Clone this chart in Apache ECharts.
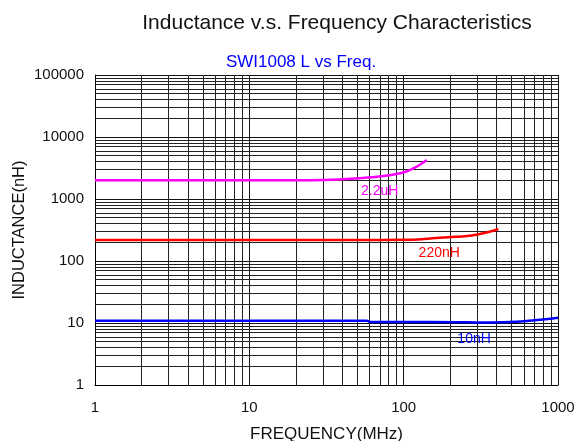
<!DOCTYPE html>
<html><head><meta charset="utf-8">
<script src="https://cdn.jsdelivr.net/npm/echarts@6/dist/echarts.min.js"></script>
<style>html,body{margin:0;padding:0;background:#fff}#c{width:578px;height:441px}</style>
</head><body><div id="c"></div>
<script>
const xTicks = [1, 10, 100, 1000];
const yTicks = [1, 10, 100, 1000, 10000, 100000];
const minorX = [2,3,4,5,6,7,8,9,20,30,40,50,60,70,80,90,200,300,400,500,600,700,800,900];
const minorY = [2,3,4,5,6,7,8,9,20,30,40,50,60,70,80,90,200,300,400,500,600,700,800,900,
  2000,3000,4000,5000,6000,7000,8000,9000,20000,30000,40000,50000,60000,70000,80000,90000];

const freq22u = [1, 5, 10, 20, 30, 40, 52, 63, 73.5, 85, 95, 106, 115.6, 128, 141];
const val22u  = [2000, 2000, 2000, 2010, 2030, 2080, 2160, 2250, 2350, 2470, 2600, 2830, 3125, 3600, 4260];
const freq220n = [1, 10, 50, 100, 135, 172, 215, 256, 295, 327, 370, 411];
const val220n  = [218, 218, 218, 220, 226, 238, 245, 253, 265, 280, 302, 328];
const freq10n = [1, 10, 30, 57.6, 60.6, 100, 221, 300, 441, 540, 628, 800, 1000];
const val10n  = [10.9, 10.9, 10.9, 10.9, 10.4, 10.4, 10.3, 10.2, 10.3, 10.5, 10.8, 11.4, 12.2];

const labels = [
  {name:'2.2uH', x:70, y:1346, color:'#ff00ff'},
  {name:'220nH', x:170, y:135, color:'#ff0000'},
  {name:'10nH', x:286, y:5.5, color:'#0000ff'}
];

const zip = (a,b)=>a.map((v,i)=>[v,b[i]]);
const chart = echarts.init(document.getElementById('c'), null, {renderer:'canvas'});
const font = 'Liberation Sans, Arial, sans-serif';
const gridLine = {color:'#111', width:1};

function series(name, data, color, lbl, extraMark){
  const s = {
    name, type:'line', data, symbol:'none', smooth:true, z:5,
    lineStyle:{color, width:2.5}, itemStyle:{color},
    markPoint:{symbol:'circle', symbolSize:0, silent:true,
      label:{show:true, position:'inside', color:lbl.color, fontSize:14, fontFamily:font, formatter:lbl.name},
      data:[{coord:[lbl.x, lbl.y]}]}
  };
  if (extraMark) s.markLine = extraMark;
  return s;
}

const gridMarks = {
  silent:true, symbol:['none','none'], animation:false, z:1,
  label:{show:false}, lineStyle:{color:'#222', width:1, type:'solid'},
  data: minorX.map(v=>({xAxis:v})).concat(minorY.map(v=>({yAxis:v})))
};

chart.setOption({
  animation:false,
  title:[
    {text:'Inductance v.s. Frequency Characteristics', left:332, top:8, textAlign:'center',
     textStyle:{fontSize:21, fontWeight:'normal', color:'#111', fontFamily:font}},
    {text:'SWI1008 L vs Freq.', left:296, top:49, textAlign:'center',
     textStyle:{fontSize:17, fontWeight:'normal', color:'#0000ff', fontFamily:font}}
  ],
  grid:{left:95, right:20, top:75, bottom:56, containLabel:false, outerBoundsMode:'none'},
  xAxis:{type:'log', logBase:10, min:1, max:1000,
    name:'FREQUENCY(MHz)', nameLocation:'middle', nameGap:41, nameMoveOverlap:false,
    nameTextStyle:{fontSize:17, color:'#111', fontFamily:font},
    axisLine:{lineStyle:{color:'#000', width:1}}, axisTick:{show:false},
    axisLabel:{fontSize:15, color:'#111', fontFamily:font, margin:15,
      formatter:v=>String(Math.round(v))},
    splitLine:{show:true, lineStyle:gridLine}},
  yAxis:{type:'log', logBase:10, min:1, max:100000,
    name:'INDUCTANCE(nH)', nameLocation:'middle', nameGap:67, nameRotate:90, nameMoveOverlap:false,
    nameTextStyle:{fontSize:16.5, color:'#111', fontFamily:font},
    axisLine:{lineStyle:{color:'#000', width:1}}, axisTick:{show:false},
    axisLabel:{fontSize:15, color:'#111', fontFamily:font, margin:11,
      formatter:v=>String(Math.round(v))},
    splitLine:{show:true, lineStyle:gridLine}},
  series:[
    series('2.2uH', zip(freq22u, val22u), '#ff00ff', labels[0], gridMarks),
    series('220nH', zip(freq220n, val220n), '#ff0000', labels[1]),
    series('10nH', zip(freq10n, val10n), '#0000ff', labels[2])
  ]
});
</script></body></html>
